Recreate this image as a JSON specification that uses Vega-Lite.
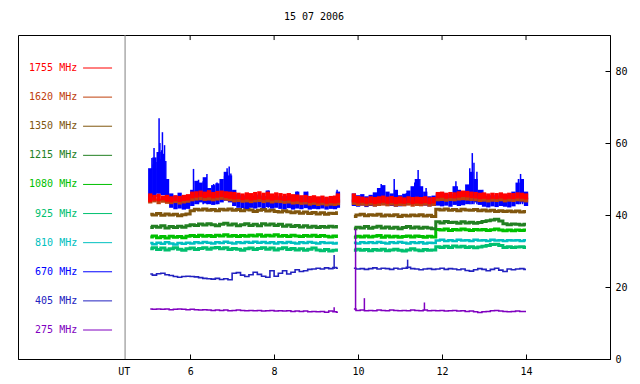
{
"$schema":"https://vega.github.io/schema/vega-lite/v6.json",
"width":592,"height":324,"autosize":"none",
"padding":{"left":18,"top":35,"right":30,"bottom":25},
"background":"white",
"title":{"text":"15 07 2006","font":"DejaVu Sans Mono","fontSize":10,"fontWeight":"normal","color":"black","offset":13,"anchor":"middle"},
"datasets":{
"main":[
{"t":5.05,"g":1,"r1":43.6,"r2":46.0,"b1":44.0,"b2":53.0,"o1":43.2,"o2":44.8,"k":40.2,"d":36.5,"e":33.9,"n":30.6,"c":32.2,"u":23.6,"p":13.9},
{"t":5.15,"g":1,"r1":44.0,"r2":45.6,"b1":45.0,"b2":56.0,"o1":43.5,"o2":44.6,"k":40.0,"d":36.9,"e":34.2,"n":30.9,"c":31.9,"u":23.3,"p":13.8},
{"t":5.25,"g":1,"r1":43.8,"r2":45.9,"b1":46.0,"b2":57.5,"o1":43.0,"o2":44.5,"k":40.4,"d":36.6,"e":33.7,"n":30.4,"c":32.3,"u":23.7,"p":13.9},
{"t":5.35,"g":1,"r1":44.1,"r2":45.4,"b1":45.5,"b2":55.0,"o1":43.4,"o2":44.7,"k":39.9,"d":37.0,"e":34.0,"n":30.8,"c":32.0,"u":23.8,"p":13.8},
{"t":5.45,"g":1,"r1":43.7,"r2":45.6,"b1":44.0,"b2":50.0,"o1":43.1,"o2":44.4,"k":40.3,"d":36.4,"e":33.6,"n":30.3,"c":32.4,"u":23.4,"p":13.9},
{"t":5.55,"g":1,"r1":43.5,"r2":45.2,"b1":42.0,"b2":46.0,"o1":43.0,"o2":44.3,"k":40.0,"d":36.8,"e":34.1,"n":30.6,"c":32.1,"u":23.2,"p":13.7},
{"t":5.65,"g":1,"r1":43.8,"r2":45.5,"b1":41.6,"b2":45.4,"o1":43.3,"o2":44.5,"k":40.2,"d":36.5,"e":33.8,"n":30.9,"c":31.8,"u":22.9,"p":13.8},
{"t":5.75,"g":1,"r1":43.6,"r2":45.3,"b1":41.8,"b2":46.2,"o1":42.9,"o2":44.2,"k":39.8,"d":36.9,"e":34.0,"n":30.5,"c":32.2,"u":22.7,"p":13.9},
{"t":5.85,"g":1,"r1":43.9,"r2":45.6,"b1":41.5,"b2":45.0,"o1":43.2,"o2":44.6,"k":40.1,"d":36.6,"e":33.7,"n":30.2,"c":32.0,"u":22.9,"p":13.8},
{"t":5.95,"g":1,"r1":44.0,"r2":45.8,"b1":41.7,"b2":45.3,"o1":43.4,"o2":44.7,"k":40.3,"d":37.0,"e":34.1,"n":30.6,"c":32.3,"u":23.0,"p":13.7},
{"t":6.05,"g":1,"r1":44.6,"r2":46.5,"b1":42.5,"b2":47.0,"o1":43.8,"o2":45.2,"k":41.2,"d":37.3,"e":34.3,"n":30.8,"c":32.1,"u":22.9,"p":13.8},
{"t":6.15,"g":1,"r1":44.8,"r2":46.6,"b1":43.0,"b2":49.5,"o1":44.0,"o2":45.3,"k":41.6,"d":37.1,"e":34.0,"n":30.4,"c":32.4,"u":22.8,"p":13.7},
{"t":6.25,"g":1,"r1":45.0,"r2":46.8,"b1":43.5,"b2":49.0,"o1":44.1,"o2":45.5,"k":41.4,"d":37.5,"e":34.4,"n":30.7,"c":32.2,"u":22.6,"p":13.6},
{"t":6.35,"g":1,"r1":44.7,"r2":46.5,"b1":43.2,"b2":50.5,"o1":43.9,"o2":45.2,"k":41.7,"d":37.2,"e":34.1,"n":30.9,"c":32.5,"u":22.4,"p":13.7},
{"t":6.45,"g":1,"r1":44.9,"r2":46.9,"b1":43.0,"b2":47.5,"o1":44.0,"o2":45.4,"k":41.3,"d":37.6,"e":34.3,"n":30.5,"c":32.3,"u":22.3,"p":13.6},
{"t":6.55,"g":1,"r1":44.6,"r2":46.4,"b1":42.8,"b2":48.3,"o1":43.8,"o2":45.1,"k":41.5,"d":37.3,"e":34.0,"n":30.8,"c":32.1,"u":22.2,"p":13.5},
{"t":6.65,"g":1,"r1":44.8,"r2":46.7,"b1":43.0,"b2":48.8,"o1":44.0,"o2":45.3,"k":41.2,"d":37.0,"e":34.4,"n":31.0,"c":32.4,"u":22.4,"p":13.6},
{"t":6.75,"g":1,"r1":45.0,"r2":46.8,"b1":43.5,"b2":50.0,"o1":44.2,"o2":45.5,"k":41.6,"d":37.4,"e":34.2,"n":30.6,"c":32.2,"u":22.1,"p":13.5},
{"t":6.85,"g":1,"r1":44.7,"r2":46.6,"b1":44.0,"b2":52.0,"o1":44.0,"o2":45.3,"k":41.4,"d":37.7,"e":34.5,"n":30.9,"c":32.6,"u":22.3,"p":13.6},
{"t":6.95,"g":1,"r1":44.5,"r2":46.5,"b1":43.5,"b2":51.0,"o1":43.8,"o2":45.0,"k":41.7,"d":37.2,"e":34.1,"n":30.4,"c":32.3,"u":22.0,"p":13.4},
{"t":7.05,"g":1,"r1":44.3,"r2":46.4,"b1":42.5,"b2":47.0,"o1":43.5,"o2":44.8,"k":41.3,"d":37.5,"e":34.3,"n":30.7,"c":32.1,"u":23.8,"p":13.5},
{"t":7.15,"g":1,"r1":44.4,"r2":46.2,"b1":42.0,"b2":45.8,"o1":43.6,"o2":44.9,"k":41.5,"d":37.0,"e":34.0,"n":30.5,"c":32.4,"u":24.0,"p":13.6},
{"t":7.25,"g":1,"r1":44.1,"r2":46.0,"b1":41.9,"b2":45.5,"o1":43.4,"o2":44.7,"k":41.2,"d":37.3,"e":34.3,"n":30.2,"c":32.2,"u":23.3,"p":13.5},
{"t":7.35,"g":1,"r1":44.3,"r2":46.3,"b1":41.7,"b2":45.2,"o1":43.5,"o2":44.9,"k":41.6,"d":37.6,"e":34.1,"n":30.6,"c":32.5,"u":22.9,"p":13.4},
{"t":7.45,"g":1,"r1":44.0,"r2":46.1,"b1":42.0,"b2":45.6,"o1":43.3,"o2":44.6,"k":41.4,"d":37.1,"e":34.4,"n":30.8,"c":32.3,"u":23.4,"p":13.5},
{"t":7.55,"g":1,"r1":44.2,"r2":46.4,"b1":41.8,"b2":45.4,"o1":43.5,"o2":44.8,"k":41.0,"d":37.4,"e":34.2,"n":30.4,"c":32.6,"u":24.1,"p":13.4},
{"t":7.65,"g":1,"r1":44.4,"r2":46.6,"b1":42.1,"b2":45.7,"o1":43.6,"o2":45.0,"k":41.3,"d":37.0,"e":34.5,"n":30.7,"c":32.3,"u":23.5,"p":13.5},
{"t":7.75,"g":1,"r1":44.1,"r2":46.2,"b1":41.9,"b2":45.3,"o1":43.3,"o2":44.7,"k":41.5,"d":37.6,"e":34.1,"n":30.9,"c":32.5,"u":23.0,"p":13.3},
{"t":7.85,"g":1,"r1":44.3,"r2":46.5,"b1":42.2,"b2":46.8,"o1":43.5,"o2":44.9,"k":41.1,"d":37.2,"e":34.4,"n":30.5,"c":32.2,"u":22.7,"p":13.4},
{"t":7.95,"g":1,"r1":44.0,"r2":46.0,"b1":41.8,"b2":45.5,"o1":43.2,"o2":44.6,"k":41.4,"d":37.5,"e":34.2,"n":30.8,"c":32.4,"u":24.5,"p":13.5},
{"t":8.05,"g":1,"r1":44.2,"r2":46.3,"b1":42.0,"b2":45.4,"o1":43.4,"o2":44.8,"k":41.0,"d":37.1,"e":34.5,"n":30.3,"c":32.1,"u":23.0,"p":13.3},
{"t":8.15,"g":1,"r1":44.1,"r2":46.1,"b1":41.7,"b2":45.2,"o1":43.3,"o2":44.6,"k":40.8,"d":37.4,"e":34.1,"n":30.6,"c":32.4,"u":23.8,"p":13.4},
{"t":8.25,"g":1,"r1":43.9,"r2":45.9,"b1":41.6,"b2":45.3,"o1":43.1,"o2":44.5,"k":41.2,"d":36.9,"e":34.3,"n":30.9,"c":32.2,"u":24.5,"p":13.3},
{"t":8.35,"g":1,"r1":44.0,"r2":46.1,"b1":41.9,"b2":45.6,"o1":43.2,"o2":44.6,"k":40.9,"d":37.2,"e":34.0,"n":30.4,"c":32.5,"u":23.6,"p":13.4},
{"t":8.45,"g":1,"r1":43.7,"r2":45.8,"b1":41.5,"b2":45.0,"o1":42.9,"o2":44.3,"k":40.6,"d":36.8,"e":34.4,"n":30.7,"c":32.3,"u":24.1,"p":13.2},
{"t":8.55,"g":1,"r1":43.8,"r2":45.7,"b1":41.8,"b2":46.5,"o1":43.0,"o2":44.4,"k":40.9,"d":37.1,"e":34.2,"n":30.3,"c":32.1,"u":24.8,"p":13.3},
{"t":8.65,"g":1,"r1":43.5,"r2":45.5,"b1":41.6,"b2":45.2,"o1":42.8,"o2":44.1,"k":40.5,"d":36.7,"e":34.0,"n":30.6,"c":32.4,"u":24.3,"p":13.2},
{"t":8.75,"g":1,"r1":43.6,"r2":45.6,"b1":41.9,"b2":46.5,"o1":42.9,"o2":44.3,"k":40.8,"d":37.0,"e":34.3,"n":30.2,"c":32.2,"u":24.5,"p":13.3},
{"t":8.85,"g":1,"r1":43.3,"r2":45.3,"b1":41.5,"b2":44.8,"o1":42.6,"o2":44.0,"k":40.4,"d":36.6,"e":34.1,"n":30.5,"c":32.5,"u":24.9,"p":13.1},
{"t":8.95,"g":1,"r1":43.5,"r2":45.5,"b1":41.7,"b2":45.0,"o1":42.8,"o2":44.2,"k":40.7,"d":36.9,"e":34.4,"n":30.8,"c":32.3,"u":25.0,"p":13.2},
{"t":9.05,"g":1,"r1":43.2,"r2":45.2,"b1":41.6,"b2":44.9,"o1":42.5,"o2":43.9,"k":40.3,"d":36.5,"e":34.0,"n":30.3,"c":32.1,"u":25.2,"p":13.1},
{"t":9.15,"g":1,"r1":43.4,"r2":45.4,"b1":41.8,"b2":45.1,"o1":42.7,"o2":44.1,"k":40.6,"d":36.8,"e":34.3,"n":30.1,"c":32.4,"u":25.0,"p":13.2},
{"t":9.25,"g":1,"r1":43.1,"r2":45.1,"b1":41.5,"b2":44.7,"o1":42.4,"o2":43.8,"k":40.2,"d":36.6,"e":34.1,"n":30.4,"c":32.2,"u":25.3,"p":13.0},
{"t":9.35,"g":1,"r1":43.3,"r2":45.3,"b1":41.7,"b2":45.0,"o1":42.6,"o2":44.0,"k":40.5,"d":36.9,"e":33.9,"n":30.0,"c":32.3,"u":25.1,"p":13.3},
{"t":9.45,"g":1,"r1":43.2,"r2":45.4,"b1":41.6,"b2":45.3,"o1":42.5,"o2":44.1,"k":40.4,"d":36.7,"e":34.2,"n":30.2,"c":32.1,"u":25.4,"p":13.1},
{"t":9.52,"g":1,"r1":43.4,"r2":46.0,"b1":42.0,"b2":46.5,"o1":42.7,"o2":44.3,"k":40.6,"d":36.8,"e":34.0,"n":30.3,"c":32.2,"u":25.2,"p":13.0},
{"t":9.9,"g":2,"r1":43.5,"r2":46.0,"b1":42.5,"b2":46.0,"o1":42.8,"o2":44.3,"k":39.6,"d":36.2,"e":33.8,"n":30.2,"c":32.3,"u":25.2,"p":13.9},
{"t":10.0,"g":2,"r1":43.2,"r2":45.3,"b1":42.3,"b2":45.5,"o1":42.5,"o2":43.9,"k":40.0,"d":36.6,"e":34.1,"n":30.5,"c":32.1,"u":25.0,"p":13.5},
{"t":10.1,"g":2,"r1":43.4,"r2":45.1,"b1":42.6,"b2":45.8,"o1":42.6,"o2":44.0,"k":40.2,"d":36.4,"e":33.9,"n":30.2,"c":32.4,"u":25.1,"p":13.6},
{"t":10.2,"g":2,"r1":43.1,"r2":44.9,"b1":42.2,"b2":45.2,"o1":42.4,"o2":43.8,"k":39.8,"d":36.8,"e":34.2,"n":30.4,"c":32.2,"u":24.9,"p":13.4},
{"t":10.3,"g":2,"r1":43.3,"r2":45.2,"b1":42.5,"b2":45.6,"o1":42.6,"o2":44.0,"k":40.1,"d":36.3,"e":33.9,"n":30.1,"c":32.4,"u":25.1,"p":13.5},
{"t":10.4,"g":2,"r1":43.0,"r2":45.0,"b1":42.4,"b2":46.3,"o1":42.3,"o2":43.8,"k":39.9,"d":36.6,"e":34.1,"n":30.4,"c":32.2,"u":25.3,"p":13.4},
{"t":10.5,"g":2,"r1":43.2,"r2":45.2,"b1":42.8,"b2":47.5,"o1":42.5,"o2":43.9,"k":40.2,"d":36.9,"e":34.3,"n":30.2,"c":32.5,"u":25.0,"p":13.6},
{"t":10.6,"g":2,"r1":43.4,"r2":45.4,"b1":43.0,"b2":48.3,"o1":42.6,"o2":44.0,"k":39.7,"d":36.4,"e":33.8,"n":30.5,"c":32.3,"u":25.2,"p":13.5},
{"t":10.7,"g":2,"r1":43.1,"r2":45.1,"b1":42.6,"b2":46.5,"o1":42.4,"o2":43.8,"k":40.0,"d":36.7,"e":34.2,"n":30.1,"c":32.1,"u":25.1,"p":13.4},
{"t":10.8,"g":2,"r1":43.3,"r2":45.3,"b1":42.5,"b2":46.0,"o1":42.6,"o2":44.0,"k":39.8,"d":36.3,"e":33.9,"n":30.3,"c":32.4,"u":24.9,"p":13.6},
{"t":10.9,"g":2,"r1":43.0,"r2":45.0,"b1":42.3,"b2":47.0,"o1":42.3,"o2":43.7,"k":40.1,"d":36.6,"e":34.1,"n":30.5,"c":32.2,"u":25.2,"p":13.5},
{"t":11.0,"g":2,"r1":43.2,"r2":45.2,"b1":42.4,"b2":45.5,"o1":42.5,"o2":43.9,"k":39.6,"d":36.2,"e":33.8,"n":30.2,"c":32.5,"u":25.0,"p":13.4},
{"t":11.1,"g":2,"r1":43.1,"r2":44.9,"b1":42.6,"b2":45.9,"o1":42.4,"o2":43.8,"k":39.9,"d":36.5,"e":34.0,"n":30.0,"c":32.3,"u":25.2,"p":13.5},
{"t":11.2,"g":2,"r1":43.3,"r2":45.2,"b1":42.8,"b2":46.8,"o1":42.6,"o2":44.0,"k":39.7,"d":36.8,"e":34.2,"n":30.3,"c":32.1,"u":25.5,"p":13.4},
{"t":11.3,"g":2,"r1":43.0,"r2":45.0,"b1":43.0,"b2":48.0,"o1":42.3,"o2":43.7,"k":40.0,"d":36.4,"e":33.9,"n":30.6,"c":32.4,"u":25.1,"p":13.6},
{"t":11.4,"g":2,"r1":43.2,"r2":45.1,"b1":43.5,"b2":50.0,"o1":42.5,"o2":43.9,"k":39.8,"d":36.7,"e":34.2,"n":30.3,"c":32.2,"u":25.0,"p":13.5},
{"t":11.5,"g":2,"r1":43.1,"r2":45.0,"b1":43.0,"b2":48.0,"o1":42.4,"o2":43.8,"k":40.1,"d":36.3,"e":34.0,"n":30.1,"c":32.4,"u":24.8,"p":13.4},
{"t":11.6,"g":2,"r1":43.3,"r2":45.2,"b1":42.6,"b2":46.5,"o1":42.6,"o2":44.0,"k":39.7,"d":36.6,"e":33.8,"n":30.4,"c":32.1,"u":25.0,"p":13.6},
{"t":11.7,"g":2,"r1":43.0,"r2":44.9,"b1":42.4,"b2":45.2,"o1":42.3,"o2":43.7,"k":39.9,"d":36.4,"e":34.1,"n":30.2,"c":32.3,"u":25.1,"p":13.4},
{"t":11.8,"g":2,"r1":43.2,"r2":45.0,"b1":42.5,"b2":45.4,"o1":42.5,"o2":43.8,"k":39.6,"d":36.2,"e":33.9,"n":30.3,"c":32.2,"u":24.9,"p":13.5},
{"t":11.9,"g":2,"r1":44.6,"r2":46.4,"b1":42.6,"b2":46.0,"o1":43.8,"o2":45.1,"k":41.6,"d":38.1,"e":36.0,"n":31.2,"c":32.9,"u":25.0,"p":13.4},
{"t":12.0,"g":2,"r1":44.8,"r2":46.5,"b1":42.4,"b2":46.3,"o1":43.9,"o2":45.2,"k":41.4,"d":37.8,"e":35.8,"n":31.0,"c":33.1,"u":25.2,"p":13.5},
{"t":12.1,"g":2,"r1":44.5,"r2":46.2,"b1":42.6,"b2":46.0,"o1":43.7,"o2":45.0,"k":41.7,"d":38.2,"e":36.1,"n":31.3,"c":32.8,"u":24.9,"p":13.3},
{"t":12.2,"g":2,"r1":44.7,"r2":46.4,"b1":42.3,"b2":45.8,"o1":43.9,"o2":45.2,"k":41.3,"d":37.9,"e":35.7,"n":31.0,"c":33.0,"u":25.1,"p":13.4},
{"t":12.3,"g":2,"r1":44.6,"r2":46.3,"b1":42.8,"b2":48.0,"o1":43.8,"o2":45.1,"k":41.5,"d":38.0,"e":36.0,"n":31.4,"c":32.8,"u":25.0,"p":13.5},
{"t":12.4,"g":2,"r1":44.8,"r2":46.6,"b1":42.5,"b2":47.0,"o1":44.0,"o2":45.3,"k":41.2,"d":37.7,"e":35.8,"n":31.1,"c":33.1,"u":24.8,"p":13.3},
{"t":12.5,"g":2,"r1":45.0,"r2":46.8,"b1":42.7,"b2":46.5,"o1":44.1,"o2":45.4,"k":41.6,"d":38.1,"e":36.1,"n":31.3,"c":32.9,"u":25.0,"p":13.4},
{"t":12.6,"g":2,"r1":44.9,"r2":46.7,"b1":43.0,"b2":48.5,"o1":44.0,"o2":45.3,"k":41.4,"d":37.8,"e":35.9,"n":31.0,"c":33.0,"u":24.6,"p":13.2},
{"t":12.7,"g":2,"r1":44.7,"r2":46.5,"b1":44.0,"b2":52.0,"o1":43.9,"o2":45.2,"k":41.3,"d":38.0,"e":35.7,"n":31.2,"c":32.8,"u":24.4,"p":13.3},
{"t":12.8,"g":2,"r1":44.6,"r2":46.4,"b1":43.5,"b2":50.0,"o1":43.8,"o2":45.1,"k":41.5,"d":37.7,"e":36.0,"n":30.9,"c":33.1,"u":24.8,"p":13.1},
{"t":12.9,"g":2,"r1":44.4,"r2":46.2,"b1":42.8,"b2":47.0,"o1":43.6,"o2":44.9,"k":41.2,"d":37.9,"e":35.8,"n":31.1,"c":32.9,"u":25.1,"p":12.9},
{"t":13.0,"g":2,"r1":44.5,"r2":46.3,"b1":42.3,"b2":45.5,"o1":43.7,"o2":45.0,"k":41.4,"d":38.2,"e":36.0,"n":31.3,"c":33.0,"u":24.9,"p":13.1},
{"t":13.1,"g":2,"r1":44.3,"r2":46.0,"b1":42.1,"b2":45.3,"o1":43.5,"o2":44.8,"k":41.1,"d":38.4,"e":35.7,"n":31.5,"c":32.8,"u":24.5,"p":13.2},
{"t":13.2,"g":2,"r1":44.5,"r2":46.2,"b1":42.4,"b2":45.6,"o1":43.7,"o2":45.0,"k":41.3,"d":38.6,"e":35.9,"n":31.8,"c":33.1,"u":24.9,"p":13.4},
{"t":13.3,"g":2,"r1":44.4,"r2":46.1,"b1":42.2,"b2":45.4,"o1":43.6,"o2":44.9,"k":41.0,"d":38.8,"e":36.1,"n":31.9,"c":32.9,"u":25.2,"p":13.5},
{"t":13.4,"g":2,"r1":44.6,"r2":46.3,"b1":42.5,"b2":45.8,"o1":43.8,"o2":45.1,"k":41.2,"d":38.3,"e":35.8,"n":31.5,"c":33.0,"u":24.7,"p":13.3},
{"t":13.5,"g":2,"r1":44.3,"r2":46.0,"b1":42.3,"b2":45.5,"o1":43.5,"o2":44.8,"k":41.0,"d":37.6,"e":35.6,"n":31.0,"c":32.8,"u":24.3,"p":13.2},
{"t":13.6,"g":2,"r1":44.5,"r2":46.2,"b1":42.1,"b2":45.7,"o1":43.7,"o2":45.0,"k":41.1,"d":37.3,"e":35.8,"n":31.2,"c":33.0,"u":25.0,"p":13.1},
{"t":13.7,"g":2,"r1":44.4,"r2":46.1,"b1":42.4,"b2":46.5,"o1":43.6,"o2":44.9,"k":40.9,"d":37.5,"e":35.6,"n":31.0,"c":32.9,"u":24.8,"p":13.2},
{"t":13.8,"g":2,"r1":44.6,"r2":46.3,"b1":43.0,"b2":49.0,"o1":43.8,"o2":45.1,"k":41.1,"d":37.4,"e":35.8,"n":31.1,"c":33.0,"u":25.0,"p":13.3},
{"t":13.9,"g":2,"r1":44.5,"r2":46.2,"b1":43.5,"b2":50.0,"o1":43.7,"o2":45.0,"k":40.8,"d":37.2,"e":35.7,"n":31.2,"c":32.8,"u":25.1,"p":13.2},
{"t":14.0,"g":2,"r1":44.3,"r2":46.0,"b1":42.5,"b2":46.5,"o1":43.5,"o2":44.8,"k":41.0,"d":37.4,"e":35.8,"n":31.0,"c":33.0,"u":24.9,"p":13.2}
],
"spk":[
{"s":"670","t":5.07,"lo":44,"hi":51},{"s":"670","t":5.09,"lo":44,"hi":55.8},{"s":"670","t":5.12,"lo":45,"hi":54},{"s":"670","t":5.14,"lo":45,"hi":58.6},
{"s":"670","t":5.18,"lo":46,"hi":53},{"s":"670","t":5.21,"lo":46,"hi":54.7},{"s":"670","t":5.24,"lo":46,"hi":57},{"s":"670","t":5.26,"lo":46,"hi":66.9},
{"s":"670","t":5.28,"lo":46,"hi":60},{"s":"670","t":5.3,"lo":46,"hi":55.5},{"s":"670","t":5.32,"lo":46,"hi":58},{"s":"670","t":5.34,"lo":46,"hi":63},
{"s":"670","t":5.37,"lo":46,"hi":57},{"s":"670","t":5.39,"lo":46,"hi":59.4},{"s":"670","t":5.42,"lo":45,"hi":55},
{"s":"670","t":6.08,"lo":43,"hi":52.8},{"s":"670","t":6.2,"lo":43,"hi":49.8},{"s":"670","t":6.31,"lo":43,"hi":49.4},{"s":"670","t":6.4,"lo":43,"hi":51.4},
{"s":"670","t":6.56,"lo":43,"hi":48.6},{"s":"670","t":6.64,"lo":43,"hi":49},{"s":"670","t":6.82,"lo":44,"hi":50.8},{"s":"670","t":6.88,"lo":44,"hi":53},
{"s":"670","t":6.93,"lo":44,"hi":53.5},{"s":"670","t":6.97,"lo":44,"hi":51.5},{"s":"670","t":7.86,"lo":42,"hi":46.8},{"s":"670","t":8.55,"lo":42,"hi":46.5},
{"s":"670","t":8.8,"lo":42,"hi":46.5},{"s":"670","t":9.5,"lo":42,"hi":47},
{"s":"670","t":10.47,"lo":43,"hi":47},{"s":"670","t":10.55,"lo":43,"hi":48.6},{"s":"670","t":10.62,"lo":43,"hi":47.5},{"s":"670","t":10.86,"lo":43,"hi":50},
{"s":"670","t":11.15,"lo":43,"hi":46.1},{"s":"670","t":11.35,"lo":43,"hi":49},{"s":"670","t":11.43,"lo":43,"hi":52.5},{"s":"670","t":11.47,"lo":43,"hi":50},
{"s":"670","t":11.62,"lo":43,"hi":47.5},{"s":"670","t":12.33,"lo":43,"hi":49.4},{"s":"670","t":12.36,"lo":43,"hi":48},{"s":"670","t":12.66,"lo":43,"hi":53},
{"s":"670","t":12.69,"lo":43,"hi":51},{"s":"670","t":12.72,"lo":43,"hi":57.2},{"s":"670","t":12.76,"lo":43,"hi":54.5},{"s":"670","t":12.83,"lo":43,"hi":52},
{"s":"670","t":12.97,"lo":43,"hi":47},{"s":"670","t":13.82,"lo":43,"hi":50},{"s":"670","t":13.87,"lo":43,"hi":51.4},{"s":"670","t":13.92,"lo":43,"hi":49.5},
{"s":"275","t":9.94,"lo":13.5,"hi":36.1},{"s":"275","t":10.15,"lo":13.5,"hi":16.9},{"s":"275","t":11.58,"lo":13.5,"hi":15.7},{"s":"275","t":9.43,"lo":13.2,"hi":14.4},
{"s":"405","t":9.43,"lo":25,"hi":28.9},{"s":"405","t":11.18,"lo":25,"hi":27.6}
],
"leg":[
{"s":"1755 MHz"},{"s":"1620 MHz"},{"s":"1350 MHz"},{"s":"1215 MHz"},{"s":"1080 MHz"},
{"s":"925 MHz"},{"s":"810 MHz"},{"s":"670 MHz"},{"s":"405 MHz"},{"s":"275 MHz"}
]
},
"layer":[
{
"data":{"name":"main"},
"layer":[
{"mark":{"type":"line","color":"#8000c0","strokeWidth":1.5,"interpolate":"step"},
 "encoding":{
  "x":{"field":"t","type":"quantitative","title":null,"scale":{"domain":[1.9,16],"nice":false,"zero":false},
   "axis":{"values":[4.42,6,8,10,12,14],"labelExpr":"datum.value < 5 ? 'UT' : datum.label","tickSize":-5,"labelPadding":12,"labelFlush":false,"grid":false,
     "tickOpacity":{"condition":{"test":"datum.value < 5","value":0},"value":1}}},
  "y":{"field":"p","type":"quantitative","title":null,"scale":{"domain":[0,90],"nice":false,"zero":false},
   "axis":{"orient":"right","values":[0,20,40,60,80],"tickSize":-5,"labelPadding":10,"labelFlush":false,"grid":false}},
  "detail":{"field":"g"}}},
{"mark":{"type":"line","color":"#2222c0","strokeWidth":1.6,"interpolate":"step"},
 "encoding":{"x":{"field":"t","type":"quantitative","title":null},"y":{"field":"u","type":"quantitative","title":null},"detail":{"field":"g"}}},
{"mark":{"type":"line","color":"#00c070","strokeWidth":3,"interpolate":"step"},
 "encoding":{"x":{"field":"t","type":"quantitative","title":null},"y":{"field":"n","type":"quantitative","title":null},"detail":{"field":"g"}}},
{"mark":{"type":"line","color":"#00c0c0","strokeWidth":2.5,"interpolate":"step"},
 "encoding":{"x":{"field":"t","type":"quantitative","title":null},"y":{"field":"c","type":"quantitative","title":null},"detail":{"field":"g"}}},
{"mark":{"type":"line","color":"#00c000","strokeWidth":3,"interpolate":"step"},
 "encoding":{"x":{"field":"t","type":"quantitative","title":null},"y":{"field":"e","type":"quantitative","title":null},"detail":{"field":"g"}}},
{"mark":{"type":"line","color":"#228022","strokeWidth":3,"interpolate":"step"},
 "encoding":{"x":{"field":"t","type":"quantitative","title":null},"y":{"field":"d","type":"quantitative","title":null},"detail":{"field":"g"}}},
{"mark":{"type":"line","color":"#80560e","strokeWidth":3,"interpolate":"step"},
 "encoding":{"x":{"field":"t","type":"quantitative","title":null},"y":{"field":"k","type":"quantitative","title":null},"detail":{"field":"g"}}},
{"mark":{"type":"rule","color":"#0000ff","strokeWidth":4.3},
 "encoding":{"x":{"field":"t","type":"quantitative","title":null},"y":{"field":"b1","type":"quantitative","title":null},"y2":{"field":"b2"}}},
{"transform":[{"filter":"datum.s == '670'"}],"data":{"name":"spk"},
 "mark":{"type":"rule","color":"#0000ff","strokeWidth":1.5},
 "encoding":{"x":{"field":"t","type":"quantitative","title":null},"y":{"field":"lo","type":"quantitative","title":null},"y2":{"field":"hi"}}},
{"mark":{"type":"rule","color":"#c0400c","strokeWidth":4.3},
 "encoding":{"x":{"field":"t","type":"quantitative","title":null},"y":{"field":"o1","type":"quantitative","title":null},"y2":{"field":"o2"}}},
{"mark":{"type":"rule","color":"#ff0000","strokeWidth":4.3},
 "encoding":{"x":{"field":"t","type":"quantitative","title":null},"y":{"field":"r1","type":"quantitative","title":null},"y2":{"field":"r2"}}},
{"transform":[{"filter":"datum.s == '275'"}],"data":{"name":"spk"},
 "mark":{"type":"rule","color":"#8000c0","strokeWidth":1.5},
 "encoding":{"x":{"field":"t","type":"quantitative","title":null},"y":{"field":"lo","type":"quantitative","title":null},"y2":{"field":"hi"}}},
{"transform":[{"filter":"datum.s == '405'"}],"data":{"name":"spk"},
 "mark":{"type":"rule","color":"#2222c0","strokeWidth":1.5},
 "encoding":{"x":{"field":"t","type":"quantitative","title":null},"y":{"field":"lo","type":"quantitative","title":null},"y2":{"field":"hi"}}},
{"data":{"values":[{"t":6},{"t":8},{"t":10},{"t":12},{"t":14}]},
 "mark":{"type":"rule","color":"black","strokeWidth":1},
 "encoding":{"x":{"field":"t","type":"quantitative","title":null},"y":{"datum":90},"y2":{"datum":88.6}}},
{"data":{"values":[{}]},
 "mark":{"type":"rule","color":"#808080","strokeWidth":1},
 "encoding":{"x":{"datum":4.45}}}
]
},
{
"data":{"name":"leg"},
"layer":[
{"mark":{"type":"text","align":"right","baseline":"middle","font":"DejaVu Sans Mono","fontSize":10},
 "encoding":{
  "x":{"datum":3.31},
  "y":{"field":"s","type":"ordinal","title":null,"axis":null,
   "scale":{"type":"point","padding":0,"domain":["1755 MHz","1620 MHz","1350 MHz","1215 MHz","1080 MHz","925 MHz","810 MHz","670 MHz","405 MHz","275 MHz"],"range":[33,295]}},
  "text":{"field":"s"},
  "color":{"field":"s","type":"nominal","legend":null,
   "scale":{"domain":["1755 MHz","1620 MHz","1350 MHz","1215 MHz","1080 MHz","925 MHz","810 MHz","670 MHz","405 MHz","275 MHz"],
    "range":["#ff0000","#c0400c","#80560e","#228022","#00c000","#00c070","#00c0c0","#0000ff","#2222c0","#8000c0"]}}}},
{"mark":{"type":"rule","strokeWidth":1},
 "encoding":{
  "x":{"datum":3.45},"x2":{"datum":4.14},
  "y":{"field":"s","type":"ordinal","title":null,"axis":null,
   "scale":{"type":"point","padding":0,"domain":["1755 MHz","1620 MHz","1350 MHz","1215 MHz","1080 MHz","925 MHz","810 MHz","670 MHz","405 MHz","275 MHz"],"range":[33,295]}},
  "color":{"field":"s","type":"nominal","legend":null,
   "scale":{"domain":["1755 MHz","1620 MHz","1350 MHz","1215 MHz","1080 MHz","925 MHz","810 MHz","670 MHz","405 MHz","275 MHz"],
    "range":["#ff0000","#c0400c","#80560e","#228022","#00c000","#00c070","#00c0c0","#0000ff","#2222c0","#8000c0"]}}}}
]
}
],
"resolve":{"scale":{"y":"independent","color":"independent"}},
"config":{
 "font":"DejaVu Sans Mono",
 "view":{"stroke":"black","strokeWidth":1},
 "axis":{"labelFont":"DejaVu Sans Mono","labelFontSize":10,"labelColor":"black","domainColor":"black","tickColor":"black","domain":true}
}
}
